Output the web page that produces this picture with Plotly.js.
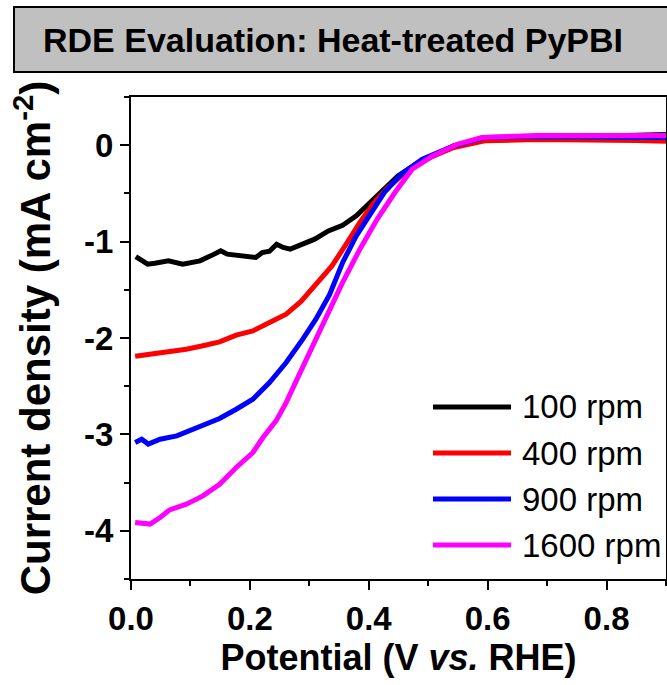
<!DOCTYPE html>
<html><head><meta charset="utf-8">
<script src="https://cdn.plot.ly/plotly-3.0.1.min.js"></script>
<style>html,body{margin:0;padding:0;background:#fff;} #chart{width:667px;height:685px;}</style>
</head><body><div id="chart"></div>
<script>
const seriesNames = ['100 rpm', '400 rpm', '900 rpm', '1600 rpm'];
const seriesColors = ['#000000', '#ff0000', '#0000ff', '#ff00ff'];

const potential100 = [0.008,0.028,0.04,0.063,0.087,0.116,0.134,0.151,0.162,0.186,0.21,0.221,0.233,0.245,0.256,0.268,0.286,0.309,0.332,0.356,0.379,0.403,0.426,0.449,0.479,0.508,0.543,0.59,0.654,0.72,0.8,0.86,0.9];
const current100 = [-1.155,-1.234,-1.224,-1.20,-1.234,-1.20,-1.148,-1.096,-1.13,-1.148,-1.165,-1.113,-1.10,-1.027,-1.06,-1.078,-1.037,-0.975,-0.889,-0.83,-0.733,-0.595,-0.456,-0.318,-0.197,-0.11,-0.007,0.062,0.08,0.09,0.095,0.1,0.11];

const potential400 = [0.007,0.037,0.065,0.093,0.121,0.149,0.177,0.205,0.233,0.261,0.286,0.315,0.338,0.362,0.385,0.409,0.432,0.461,0.496,0.543,0.595,0.683,0.78,0.85,0.9];
const current400 = [-2.19,-2.168,-2.144,-2.116,-2.08,-2.04,-1.971,-1.926,-1.84,-1.753,-1.62,-1.424,-1.252,-1.027,-0.802,-0.595,-0.44,-0.284,-0.145,-0.024,0.045,0.06,0.06,0.05,0.04];

const potential900 = [0.007,0.018,0.029,0.049,0.077,0.099,0.127,0.149,0.177,0.205,0.233,0.261,0.289,0.311,0.334,0.356,0.379,0.403,0.426,0.455,0.49,0.543,0.595,0.683,0.8,0.9];
const current900 = [-3.084,-3.05,-3.10,-3.05,-3.015,-2.96,-2.90,-2.835,-2.739,-2.635,-2.462,-2.254,-2.012,-1.805,-1.55,-1.217,-0.94,-0.698,-0.491,-0.30,-0.145,-0.007,0.08,0.09,0.085,0.08];

const potential1600 = [0.007,0.032,0.049,0.065,0.093,0.121,0.149,0.177,0.205,0.222,0.244,0.261,0.278,0.295,0.317,0.339,0.356,0.385,0.414,0.444,0.473,0.508,0.549,0.59,0.683,0.8,0.9];
const current1600 = [-3.914,-3.93,-3.862,-3.783,-3.724,-3.638,-3.517,-3.343,-3.188,-3.033,-2.86,-2.67,-2.445,-2.22,-1.943,-1.632,-1.424,-1.079,-0.768,-0.491,-0.249,-0.11,0.01,0.08,0.1,0.1,0.1];

const xTickVals = [0.0, 0.2, 0.4, 0.6, 0.8];
const xTickText = ['0.0', '0.2', '0.4', '0.6', '0.8'];
const yTickVals = [-4, -3, -2, -1, 0];
const yTickText = ['-4', '-3', '-2', '-1', '0'];

const chartTitle = 'RDE Evaluation: Heat-treated PyPBI';
const xTitle = 'Potential (V <i>vs.</i> RHE)';
const yTitle = 'Current density (mA cm<sup>-2</sup>)';

const FONT = 'Liberation Sans, Arial, Helvetica, sans-serif';
const W = 667, H = 685;
const M = {l: 131, r: 1, t: 97, b: 106};
const pw = W - M.l - M.r, ph = H - M.t - M.b;
const px2x = p => (p - M.l) / pw;
const py2y = p => (H - M.b - p) / ph;

const xs = [potential100, potential400, potential900, potential1600];
const ys = [current100, current400, current900, current1600];

const traces = xs.map((x, i) => ({
  x: x, y: ys[i], type: 'scatter', mode: 'lines', name: seriesNames[i],
  line: {color: seriesColors[i], width: 5}, showlegend: false
}));

// title box + manual legend
const shapes = [{
  type: 'rect', xref: 'paper', yref: 'paper',
  x0: px2x(14), x1: px2x(700), y0: py2y(72), y1: py2y(7),
  fillcolor: '#c0c0c0', line: {color: '#000', width: 2}, layer: 'below'
}];
const annotations = [];
const legRowsPx = [407, 453, 499, 545];
seriesNames.forEach((n, i) => {
  shapes.push({type: 'line', xref: 'paper', yref: 'paper',
    x0: px2x(433), x1: px2x(511), y0: py2y(legRowsPx[i]), y1: py2y(legRowsPx[i]),
    line: {color: seriesColors[i], width: 5}});
  annotations.push({xref: 'paper', yref: 'paper', x: px2x(520), y: py2y(legRowsPx[i]),
    xanchor: 'left', yanchor: 'middle', showarrow: false, text: n,
    font: {family: FONT, size: 33, color: '#000'}});
});

const axisCommon = {
  showline: true, linewidth: 2, linecolor: '#000', mirror: true,
  ticks: 'outside', ticklen: 9, tickwidth: 2, tickcolor: '#000',
  showgrid: false, zeroline: false,
  tickfont: {family: FONT, size: 33, color: '#000', weight: 'bold'}
};

const layout = {
  width: W, height: H, margin: M,
  paper_bgcolor: '#fff', plot_bgcolor: '#fff',
  title: {text: chartTitle, xref: 'container', yref: 'container', x: 43 / W, xanchor: 'left',
    y: 1 - 40 / H, yanchor: 'middle',
    font: {family: FONT, size: 34, color: '#000', weight: 'bold'}},
  xaxis: Object.assign({}, axisCommon, {
    range: [0, 0.9], tickvals: xTickVals, ticktext: xTickText,
    minor: {dtick: 0.1, ticks: 'outside', ticklen: 5, tickwidth: 2, tickcolor: '#000'},
    title: {text: xTitle, standoff: 8, font: {family: FONT, size: 36, color: '#000', weight: 'bold'}}
  }),
  yaxis: Object.assign({}, axisCommon, {
    range: [-4.5, 0.5], tickvals: yTickVals, ticktext: yTickText,
    minor: {dtick: 0.5, ticks: 'outside', ticklen: 5, tickwidth: 2, tickcolor: '#000'},
    title: {text: yTitle, standoff: 20, font: {family: FONT, size: 42, color: '#000', weight: 'bold'}}
  }),
  shapes: shapes, annotations: annotations, showlegend: false
};

Plotly.newPlot('chart', traces, layout, {staticPlot: true, displayModeBar: false});
</script>
</body></html>
